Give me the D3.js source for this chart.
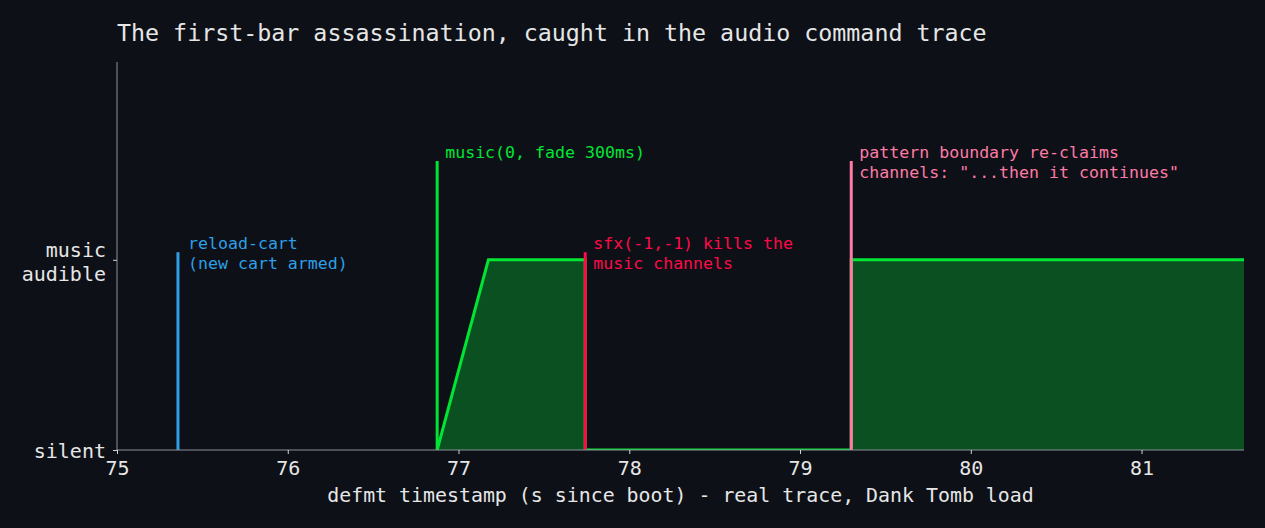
<!DOCTYPE html>
<html>
<head>
<meta charset="utf-8">
<script src="https://cdn.jsdelivr.net/npm/d3@7"></script>
<style>
  html, body { margin: 0; padding: 0; background: #0d1017; }
  svg { display: block; }
  text { font-family: "DejaVu Sans Mono", monospace; }
</style>
</head>
<body>
<script>
// audio state trace (seconds since boot, 0 = silent, 1 = music audible)
const stepTimes = [76.875, 77.175, 77.742, 77.742, 79.30, 79.30, 81.60];
const stepLevels = [0, 1, 1, 0, 0, 1, 1];

// command markers
const eventNames = ["reload-cart", "music", "sfx", "pattern"];
const eventTimes = [75.357, 76.875, 77.742, 79.30];
const eventTops = [1.04, 1.52, 1.04, 1.52];
const eventLabels = [
  ["reload-cart", "(new cart armed)"],
  ["music(0, fade 300ms)"],
  ["sfx(-1,-1) kills the", "music channels"],
  ["pattern boundary re-claims", "channels: \"...then it continues\""]
];
const eventColors = ["#2e9fe6", "#00e533", "#ff0a47", "#ff7aa5"];

const xTicks = [75, 76, 77, 78, 79, 80, 81];
const yTicks = [0, 1];
const yTickLabels = [["silent"], ["music", "audible"]];

const W = 1265, H = 528;
const margin = { top: 62, right: 21, bottom: 78, left: 117 };
const width = W - margin.left - margin.right;
const height = H - margin.top - margin.bottom;

const svg = d3.select('body').append('svg')
  .attr('width', W)
  .attr('height', H);

svg.append('rect').attr('width', W).attr('height', H).attr('fill', '#0d1017');

const g = svg.append('g').attr('transform', `translate(${margin.left},${margin.top})`);

const x = d3.scaleLinear().domain([75, 81.6]).range([0, width]);
const y = d3.scaleLinear().domain([0, 2.04]).range([height, 0]);

svg.append('defs').append('clipPath').attr('id', 'plot')
  .append('rect').attr('width', width).attr('height', height);

const pts = stepTimes.map((t, i) => [t, stepLevels[i]]);

const plot = g.append('g').attr('clip-path', 'url(#plot)');

plot.append('path')
  .datum(pts)
  .attr('fill', '#0b5020')
  .attr('d', d3.area().x(d => x(d[0])).y0(y(0)).y1(d => y(d[1])));

plot.append('path')
  .datum(pts)
  .attr('fill', 'none')
  .attr('stroke', '#00e533')
  .attr('stroke-width', 3)
  .attr('d', d3.line().x(d => x(d[0])).y(d => y(d[1])));

// event markers
const ev = g.selectAll('g.ev').data(eventNames).enter().append('g').attr('class', 'ev');

ev.append('line')
  .attr('x1', (d, i) => x(eventTimes[i]))
  .attr('x2', (d, i) => x(eventTimes[i]))
  .attr('y1', y(0))
  .attr('y2', (d, i) => y(eventTops[i]))
  .attr('stroke', (d, i) => eventColors[i])
  .attr('stroke-width', 3);

ev.append('text')
  .attr('y', (d, i) => y(eventTops[i]) - 3)
  .attr('fill', (d, i) => eventColors[i])
  .attr('font-size', 16.6)
  .each(function(d, i) {
    d3.select(this).selectAll('tspan').data(eventLabels[i]).enter().append('tspan')
      .attr('x', x(eventTimes[i]) + (i === 0 ? 10 : 8))
      .attr('dy', (s, j) => j === 0 ? 0 : 20)
      .text(s => s);
  });

// axes
const axisColor = '#8b929c';

const xAxis = g.append('g')
  .attr('transform', `translate(0,${height})`)
  .call(d3.axisBottom(x).tickValues(xTicks).tickFormat(d3.format('d')).tickSize(4).tickSizeOuter(0));

const yAxis = g.append('g')
  .call(d3.axisLeft(y).tickValues(yTicks).tickFormat('').tickSize(4).tickSizeOuter(0));

[xAxis, yAxis].forEach(a => {
  a.select('.domain').attr('stroke', axisColor);
  a.selectAll('.tick line').attr('stroke', '#d0d3d8');
});
yAxis.select('.domain').attr('d', `M0,0V${height}`);
xAxis.select('.domain').attr('d', `M0,0H${width}`);

xAxis.selectAll('.tick text')
  .attr('fill', '#e6e6e6')
  .attr('font-size', 20)
  .attr('font-family', '"DejaVu Sans Mono", monospace')
  .attr('dy', '0.71em')
  .attr('y', 11);

yAxis.selectAll('.tick').each(function(d, i) {
  const lines = yTickLabels[i];
  const t = d3.select(this).append('text')
    .attr('fill', '#e6e6e6')
    .attr('font-size', 20)
    .attr('font-family', '"DejaVu Sans Mono", monospace')
    .attr('text-anchor', 'end');
  t.selectAll('tspan').data(lines).enter().append('tspan')
    .attr('x', -11)
    .attr('y', (s, j) => (j - (lines.length - 1) / 2) * 24 + (lines.length > 1 ? 2 : 0))
    .attr('dy', '0.35em')
    .text(s => s);
});

g.append('text')
  .attr('x', width / 2)
  .attr('y', height + 52)
  .attr('text-anchor', 'middle')
  .attr('fill', '#e6e6e6')
  .attr('font-size', 19.9)
  .text('defmt timestamp (s since boot) - real trace, Dank Tomb load');

svg.append('text')
  .attr('x', margin.left)
  .attr('y', 41)
  .attr('fill', '#e6e6e6')
  .attr('font-size', 23.3)
  .text('The first-bar assassination, caught in the audio command trace');
</script>
</body>
</html>
